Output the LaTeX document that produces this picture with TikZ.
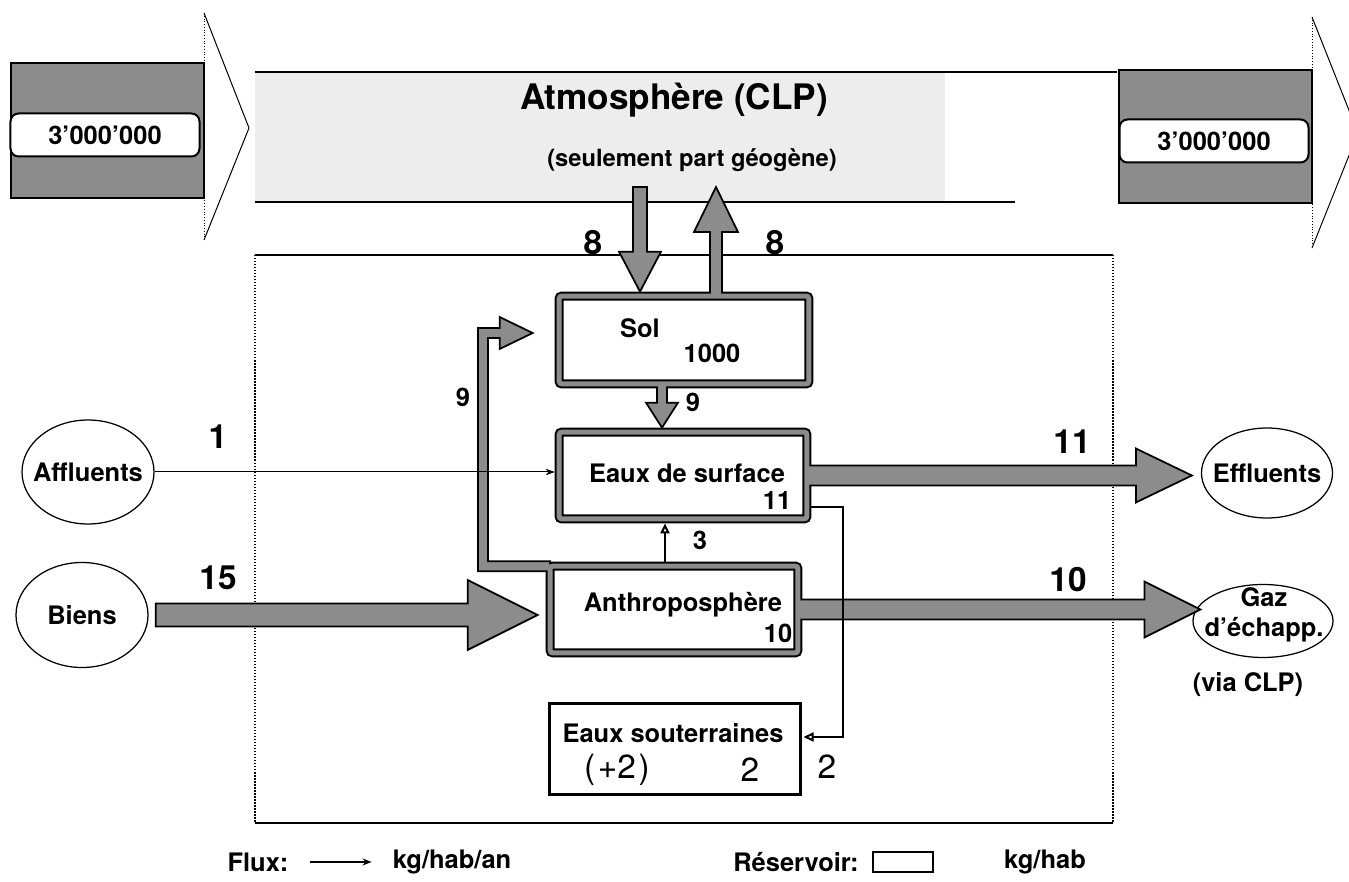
\documentclass[tikz,border=0pt]{standalone}
\usepackage{fontspec}
\setmainfont{TeX Gyre Heros}
\usetikzlibrary{calc,fit,shapes.geometric,arrows.meta}
\def\fluxarrow(#1)(#2)(#3:#4:#5){%
	\path ($(#2)!#5!(#1)$) coordinate (hb);
	\draw[flux] ($(#1)!#3!-90:(#2)$) -- ($(hb)!#3!90:(#1)$) -- ($(hb)!#4!90:(#1)$) -- (#2) -- ($(hb)!#4!-90:(#1)$) -- ($(hb)!#3!-90:(#1)$) -- ($(#1)!#3!90:(#2)$) -- cycle;}

\begin{document}
\begin{tikzpicture}[x=0.2mm, y=-0.2mm,
	flux/.style={fill=black!45, draw=black, line width=0.35mm, line join=miter},
	resframe/.style={draw=black, line width=1.8mm, rounded corners=0.5mm},
	rescore/.style={draw=black!45, line width=1mm, rounded corners=0.5mm},
	bulle/.style={ellipse, draw, line width=0.25mm, inner sep=0pt},
	txt/.style={font=\fontsize{14.5}{17}\selectfont\bfseries},
	bignum/.style={font=\fontsize{19}{22}\selectfont\bfseries},
	legtxt/.style={font=\fontsize{14.5}{17}\selectfont\bfseries},
	plain/.style={font=\fontsize{19}{22}\selectfont},
	compte/.style={draw, fill=white, line width=0.4mm, rounded corners=1.6mm, minimum width=37.8mm, minimum height=8.6mm, txt},
	thinflux/.style={line width=0.4mm, -{Triangle[open, length=2mm, width=1.8mm]}},
	fine/.style={line width=0.2mm, -{Stealth[length=1.8mm, width=1.3mm]}}]
			%%%%% START %%%%%
			\clip (0,0) rectangle (1349,882);
			
			\fill[black!7] (255,72) rectangle (945,202);
			\draw[line width=0.3mm] (255,72) -- (1117,72);
			\draw[line width=0.3mm] (255,202) -- (1015,202);
			\node[font=\fontsize{20}{23}\selectfont\bfseries] (atm) at (674,100) {Atmosphère (CLP)};
			\node[font=\fontsize{13.5}{16}\selectfont\bfseries] (geog) at (692,160) {(seulement part géogène)};
			
			\draw[line width=0.3mm] (255,255) -- (1113,255);
			\draw[line width=0.3mm] (255,823) -- (1113,823);
			\draw[line width=0.25mm, densely dotted] (255,255) -- (255,823);
			\draw[line width=0.25mm, densely dotted] (1113,255) -- (1113,823);
			
			\draw[fill=black!45, line width=0.4mm] (11,63) rectangle (204,198);
			\draw[line width=0.2mm] (204,13) -- (249,128) -- (204,240);
			\draw[line width=0.2mm, densely dotted] (204,13) -- (204,240);
			\node[compte] (entree) at (105,135) {3’000’000};
			
			\draw[fill=black!45, line width=0.4mm] (1119,70) rectangle (1312,203);
			\draw[line width=0.2mm] (1312,17) -- (1358,133) -- (1312,248);
			\draw[line width=0.2mm, densely dotted] (1312,17) -- (1312,248);
			\node[compte] (sortie) at (1214,141) {3’000’000};
			
			\node[bulle, minimum width=26.4mm, minimum height=20.8mm, label={[txt]center:Affluents}] (affl) at (88,472) {};
			\node[bulle, minimum width=26.4mm, minimum height=21mm, label={[txt]center:Biens}] (biens) at (82,615) {};
			\node[bulle, minimum width=26.2mm, minimum height=18mm, label={[txt]center:Effluents}] (effl) at (1267,473) {};
			\node[bulle, minimum width=28mm, minimum height=14.6mm] (gaz) at (1263,621) {};
			
			\node[fit={(559.5,296.5) (808.5,383.5)}, inner sep=0pt] (sol) {};
			\node[fit={(559.5,432.5) (806.5,518.5)}, inner sep=0pt] (eds) {};
			\node[fit={(550.5,566.5) (797.5,652.5)}, inner sep=0pt] (anthro) {};
			\node[fit={(549,704) (800,795)}, inner sep=0pt, draw, line width=0.6mm] (esout) {};
			
			\draw[resframe] (sol.north west) rectangle (sol.south east);
			\draw[resframe] (eds.north west) rectangle (eds.south east);
			\draw[resframe] (anthro.north west) rectangle (anthro.south east);
			
			\coordinate (atm8in) at (640,187);
			\coordinate (atm8out) at (716,187);
			\path (sol.north -| atm8in) ++(0,-4.5) coordinate (sol8in);
			\path (sol.north -| atm8out) coordinate (sol8out);
			\path ($(sol.south)+(-22,0)$) coordinate (sol9);
			\path (sol9 |- eds.north) ++(0,-4.5) coordinate (eds9);
			\path (eds.east) coordinate (eds11);
			\path (eds.east -| effl.west) ++(-9,0) coordinate (effl11);
			\path (anthro.east) coordinate (anth10);
			\path (anthro.east -| gaz.west) ++(8,0) coordinate (gaz10);
			\path (biens.east) ++(7,0) coordinate (biens15);
			\path (biens.east -| anthro.west) ++(-12.5,0) coordinate (anth15);
			\coordinate (bend9) at (483,333);
			\path (sol.west |- bend9) ++(-26.5,0) coordinate (sol9in);
			
			\fluxarrow(atm8in)(sol8in)(1.4mm:4.2mm:8mm)
			\fluxarrow(sol8out)(atm8out)(1.2mm:4.4mm:9mm)
			\fluxarrow(sol9)(eds9)(1mm:3.2mm:5mm)
			\fluxarrow(eds11)(effl11)(2mm:5.4mm:11.2mm)
			\fluxarrow(anth10)(gaz10)(2mm:5.6mm:11.2mm)
			\fluxarrow(biens15)(anth15)(2.3mm:7mm:14mm)
			\draw[flux] ($(anthro.north west)+(0,5)$) -| ($(bend9)+(-5,-5)$) -- ($(sol9in)+(-33,-5)$) -- ++(0,-11) -- (sol9in) -- ++(-33,16) -- ++(0,-11) -- ($(bend9)+(5,5)$) |- ($(anthro.north west)+(0,-5)$) -- cycle;
			
			\draw[rescore] (sol.north west) rectangle (sol.south east);
			\draw[rescore] (eds.north west) rectangle (eds.south east);
			\draw[rescore] (anthro.north west) rectangle (anthro.south east);
			
			\node[txt] (soltxt) at (640,328) {Sol};
			\node[txt] (solval) at (712,353) {1000};
			\node[txt] (edstxt) at (687,473) {Eaux de surface};
			\node[txt] (edsval) at (777,500) {11};
			\node[txt] (anthtxt) at (683,605) {Anthroposphère};
			\node[txt] (anthval) at (778,633) {10};
			\node[txt] (esouttxt) at (673,733) {Eaux souterraines};
			\node[plain] (esoutd) at (617,770) {(\kern1.5pt+2\kern1.5pt)};
			\node[plain] (esoutval) at (750,770) {2};
			\node[txt, align=center] (gaztxt) at (1264,615) {Gaz\\d’échapp.};
			\node[txt] (viaclp) at (1248,685) {(via CLP)};
			
			\draw[fine] (affl.east) -- ($(affl.east -| eds.west)+(-4.5,0)$);
			\path ($(anthro.north)+(-9,-4.5)$) coordinate (anth3);
			\draw[thinflux] (anth3) -- ($(anth3 |- eds.south)+(0,4.5)$);
			\path ($(eds.east)+(4.5,31.5)$) coordinate (eds2);
			\draw[thinflux] (eds2) -- ++(32,0) |- ($(esout.east)+(2,-12.5)$);
			
			\node[bignum] (n8a) at (593,243) {8};
			\node[bignum] (n8b) at (775,243) {8};
			\node[txt] (n9a) at (693,402) {9};
			\node[txt] (n9b) at (463,397) {9};
			\node[bignum] (n1) at (218,437) {1};
			\node[bignum] (n15) at (218,578) {15};
			\node[bignum] (n11) at (1072,442) {11};
			\node[bignum] (n10) at (1068,580) {10};
			\node[txt] (n3) at (700,540) {3};
			\node[plain] (n2) at (827,767) {2};
			
			\node[legtxt] (fluxlab) at (258,862) {Flux:};
			\node[legtxt] (kgan) at (452,862) {kg/hab/an};
			\draw[line width=0.3mm, -{Stealth[length=1.8mm, width=1.4mm]}, shorten <=3mm, shorten >=3mm] (fluxlab.east) -- (kgan.west);
			\node[legtxt] (reslab) at (796,862) {Réservoir:};
			\node[draw, line width=0.5mm, minimum width=12mm, minimum height=4mm] (resleg) at (903,862) {};
			\node[legtxt] (kghab) at (1045,862) {kg/hab};
			%%%%% END %%%%%
\end{tikzpicture}
\end{document}
